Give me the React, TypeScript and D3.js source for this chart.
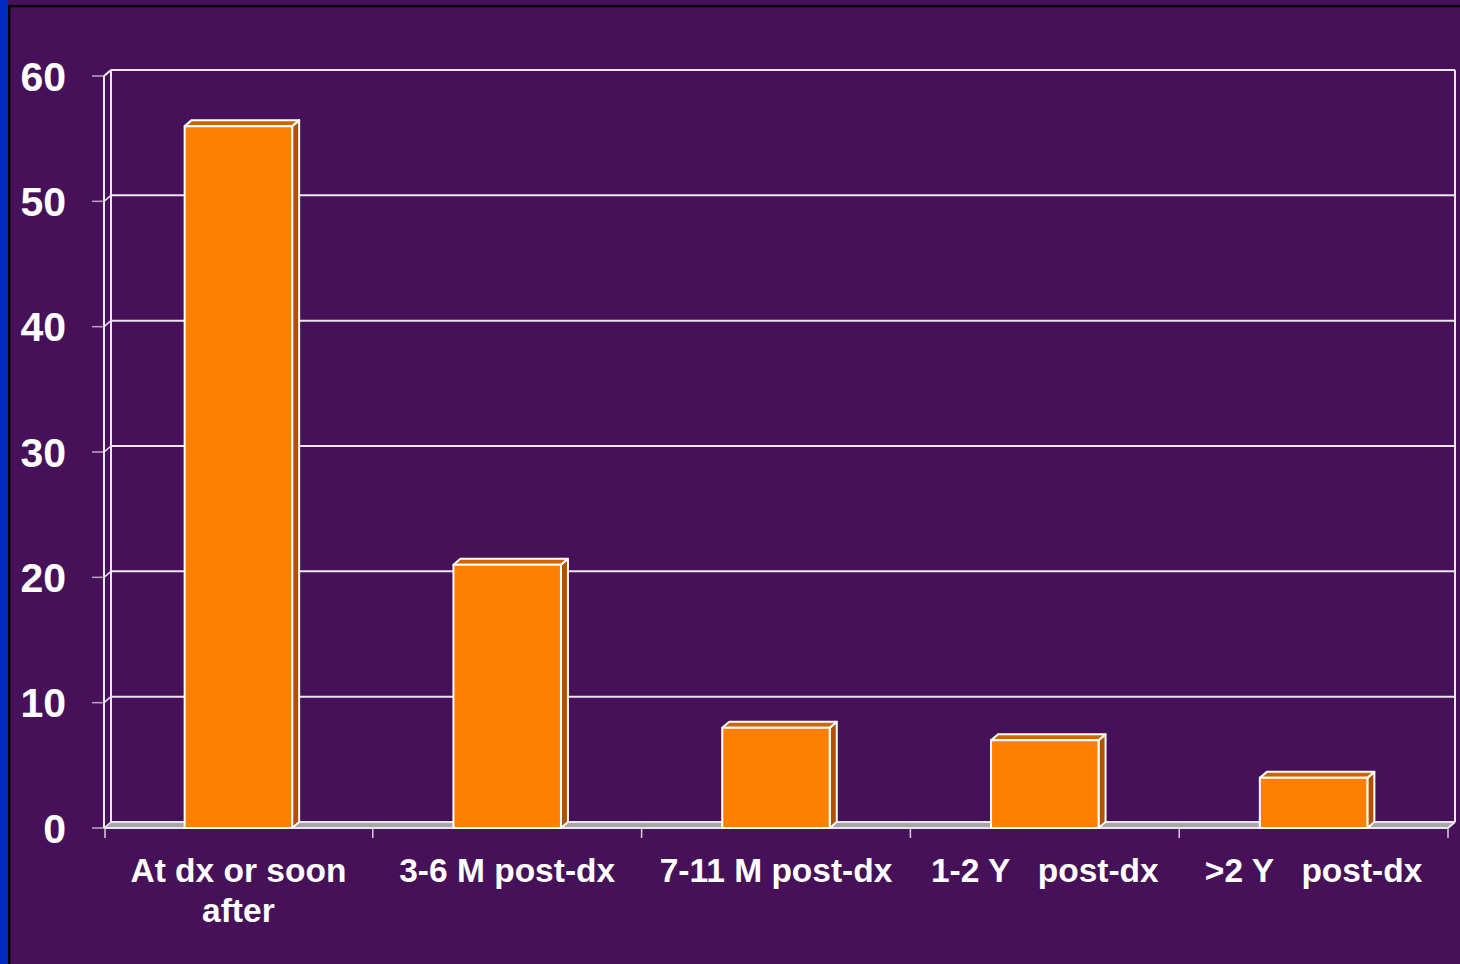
import React from "react";
import * as d3 from "d3";

const categories: string[][] = [
  ["At dx or soon", "after"],
  ["3-6 M post-dx"],
  ["7-11 M post-dx"],
  ["1-2 Y   post-dx"],
  [">2 Y   post-dx"],
];
const values: number[] = [56, 21, 8, 7, 4];
const yTicks: number[] = [0, 10, 20, 30, 40, 50, 60];

const W = 1460;
const H = 964;
const BG = "#461158";
const ORANGE = "#ff7f00";
const ORANGE_TOP = "#cc6600";
const ORANGE_SIDE = "#b35000";
const LINE = "#ece6f0";
const FONT = "'Liberation Sans', Arial, Helvetica, sans-serif";

export default function App() {
  const DX = 7;
  const DY = -6;
  const x0 = 104;
  const x1 = 1448;
  const y = d3.scaleLinear().domain([0, 60]).range([828, 76]);
  const x = d3
    .scaleBand<number>()
    .domain(categories.map((_, i) => i))
    .range([x0, x1])
    .padding(0);
  const bw = x.bandwidth() * 0.4;
  const yBase = y(0);
  const yTop = y(60);

  return (
    <svg
      width={W}
      height={H}
      style={{ position: "absolute", left: 0, top: 0, display: "block" }}
    >
      <rect x={0} y={0} width={W} height={H} fill={BG} />
      <rect x={0} y={0} width={8} height={H} fill="#0029c0" />
      <rect x={8} y={5} width={2.5} height={H - 5} fill="#000" />
      <rect x={8} y={5} width={W - 8} height={2.3} fill="#000" />

      {/* floor */}
      <polygon
        points={`${x0},${yBase} ${x0 + DX},${yBase + DY} ${x1 + DX},${yBase + DY} ${x1},${yBase}`}
        fill="#a6a6a6"
      />

      {/* gridlines on back wall */}
      {yTicks.map((t) => (
        <g key={t}>
          <line
            x1={x0 + DX}
            x2={x1 + DX}
            y1={y(t) + DY}
            y2={y(t) + DY}
            stroke={LINE}
            strokeWidth={2}
          />
          <line
            x1={x0}
            x2={x0 + DX}
            y1={y(t)}
            y2={y(t) + DY}
            stroke={LINE}
            strokeWidth={1.5}
          />
          <line
            x1={92}
            x2={x0}
            y1={y(t)}
            y2={y(t)}
            stroke="#b8a8c0"
            strokeWidth={1.5}
          />
          <text
            x={66}
            y={y(t)}
            dy="0.36em"
            textAnchor="end"
            fill="#fff"
            fontFamily={FONT}
            fontWeight="bold"
            fontSize={41}
          >
            {t}
          </text>
        </g>
      ))}

      {/* walls */}
      <line x1={x0} x2={x0} y1={yTop} y2={yBase} stroke={LINE} strokeWidth={2} />
      <line x1={x0 + DX} x2={x0 + DX} y1={yTop + DY} y2={yBase + DY} stroke={LINE} strokeWidth={2} />
      <line x1={x0} x2={x0 + DX} y1={yTop} y2={yTop + DY} stroke={LINE} strokeWidth={2} />
      <line x1={x1 + DX} x2={x1 + DX} y1={yTop + DY} y2={yBase + DY} stroke={LINE} strokeWidth={2} />
      <line x1={x1} x2={x1 + DX} y1={yBase} y2={yBase + DY} stroke={LINE} strokeWidth={2} />
      <line x1={x0} x2={x1} y1={yBase} y2={yBase} stroke={LINE} strokeWidth={2} />

      {/* category ticks */}
      {d3.range(categories.length + 1).map((i) => {
        const xx = x0 + i * x.bandwidth() + (i === 0 ? 1 : 0);
        return (
          <line
            key={i}
            x1={xx}
            x2={xx}
            y1={yBase}
            y2={yBase + 10}
            stroke="#d8d0dc"
            strokeWidth={1.5}
          />
        );
      })}

      {/* bars */}
      {values.map((v, i) => {
        const cx = (x(i) as number) + x.bandwidth() / 2;
        const bx0 = cx - bw / 2;
        const bx1 = cx + bw / 2;
        const top = y(v);
        return (
          <g key={i} stroke="#fff" strokeWidth={2} strokeLinejoin="round">
            <polygon
              points={`${bx1},${top} ${bx1 + DX},${top + DY} ${bx1 + DX},${yBase + DY} ${bx1},${yBase}`}
              fill={ORANGE_SIDE}
            />
            <polygon
              points={`${bx0},${top} ${bx0 + DX},${top + DY} ${bx1 + DX},${top + DY} ${bx1},${top}`}
              fill={ORANGE_TOP}
            />
            <rect x={bx0} y={top} width={bw} height={yBase - top} fill={ORANGE} />
          </g>
        );
      })}

      {/* category labels */}
      {categories.map((lines, i) => {
        const cx = (x(i) as number) + x.bandwidth() / 2;
        return (
          <text
            key={i}
            x={cx}
            textAnchor="middle"
            fill="#fff"
            fontFamily={FONT}
            fontWeight="bold"
            fontSize={33.5}
            xmlSpace="preserve"
            style={{ whiteSpace: "pre" }}
          >
            {lines.map((l, j) => (
              <tspan key={j} x={cx} y={882 + j * 40}>
                {l}
              </tspan>
            ))}
          </text>
        );
      })}
    </svg>
  );
}
